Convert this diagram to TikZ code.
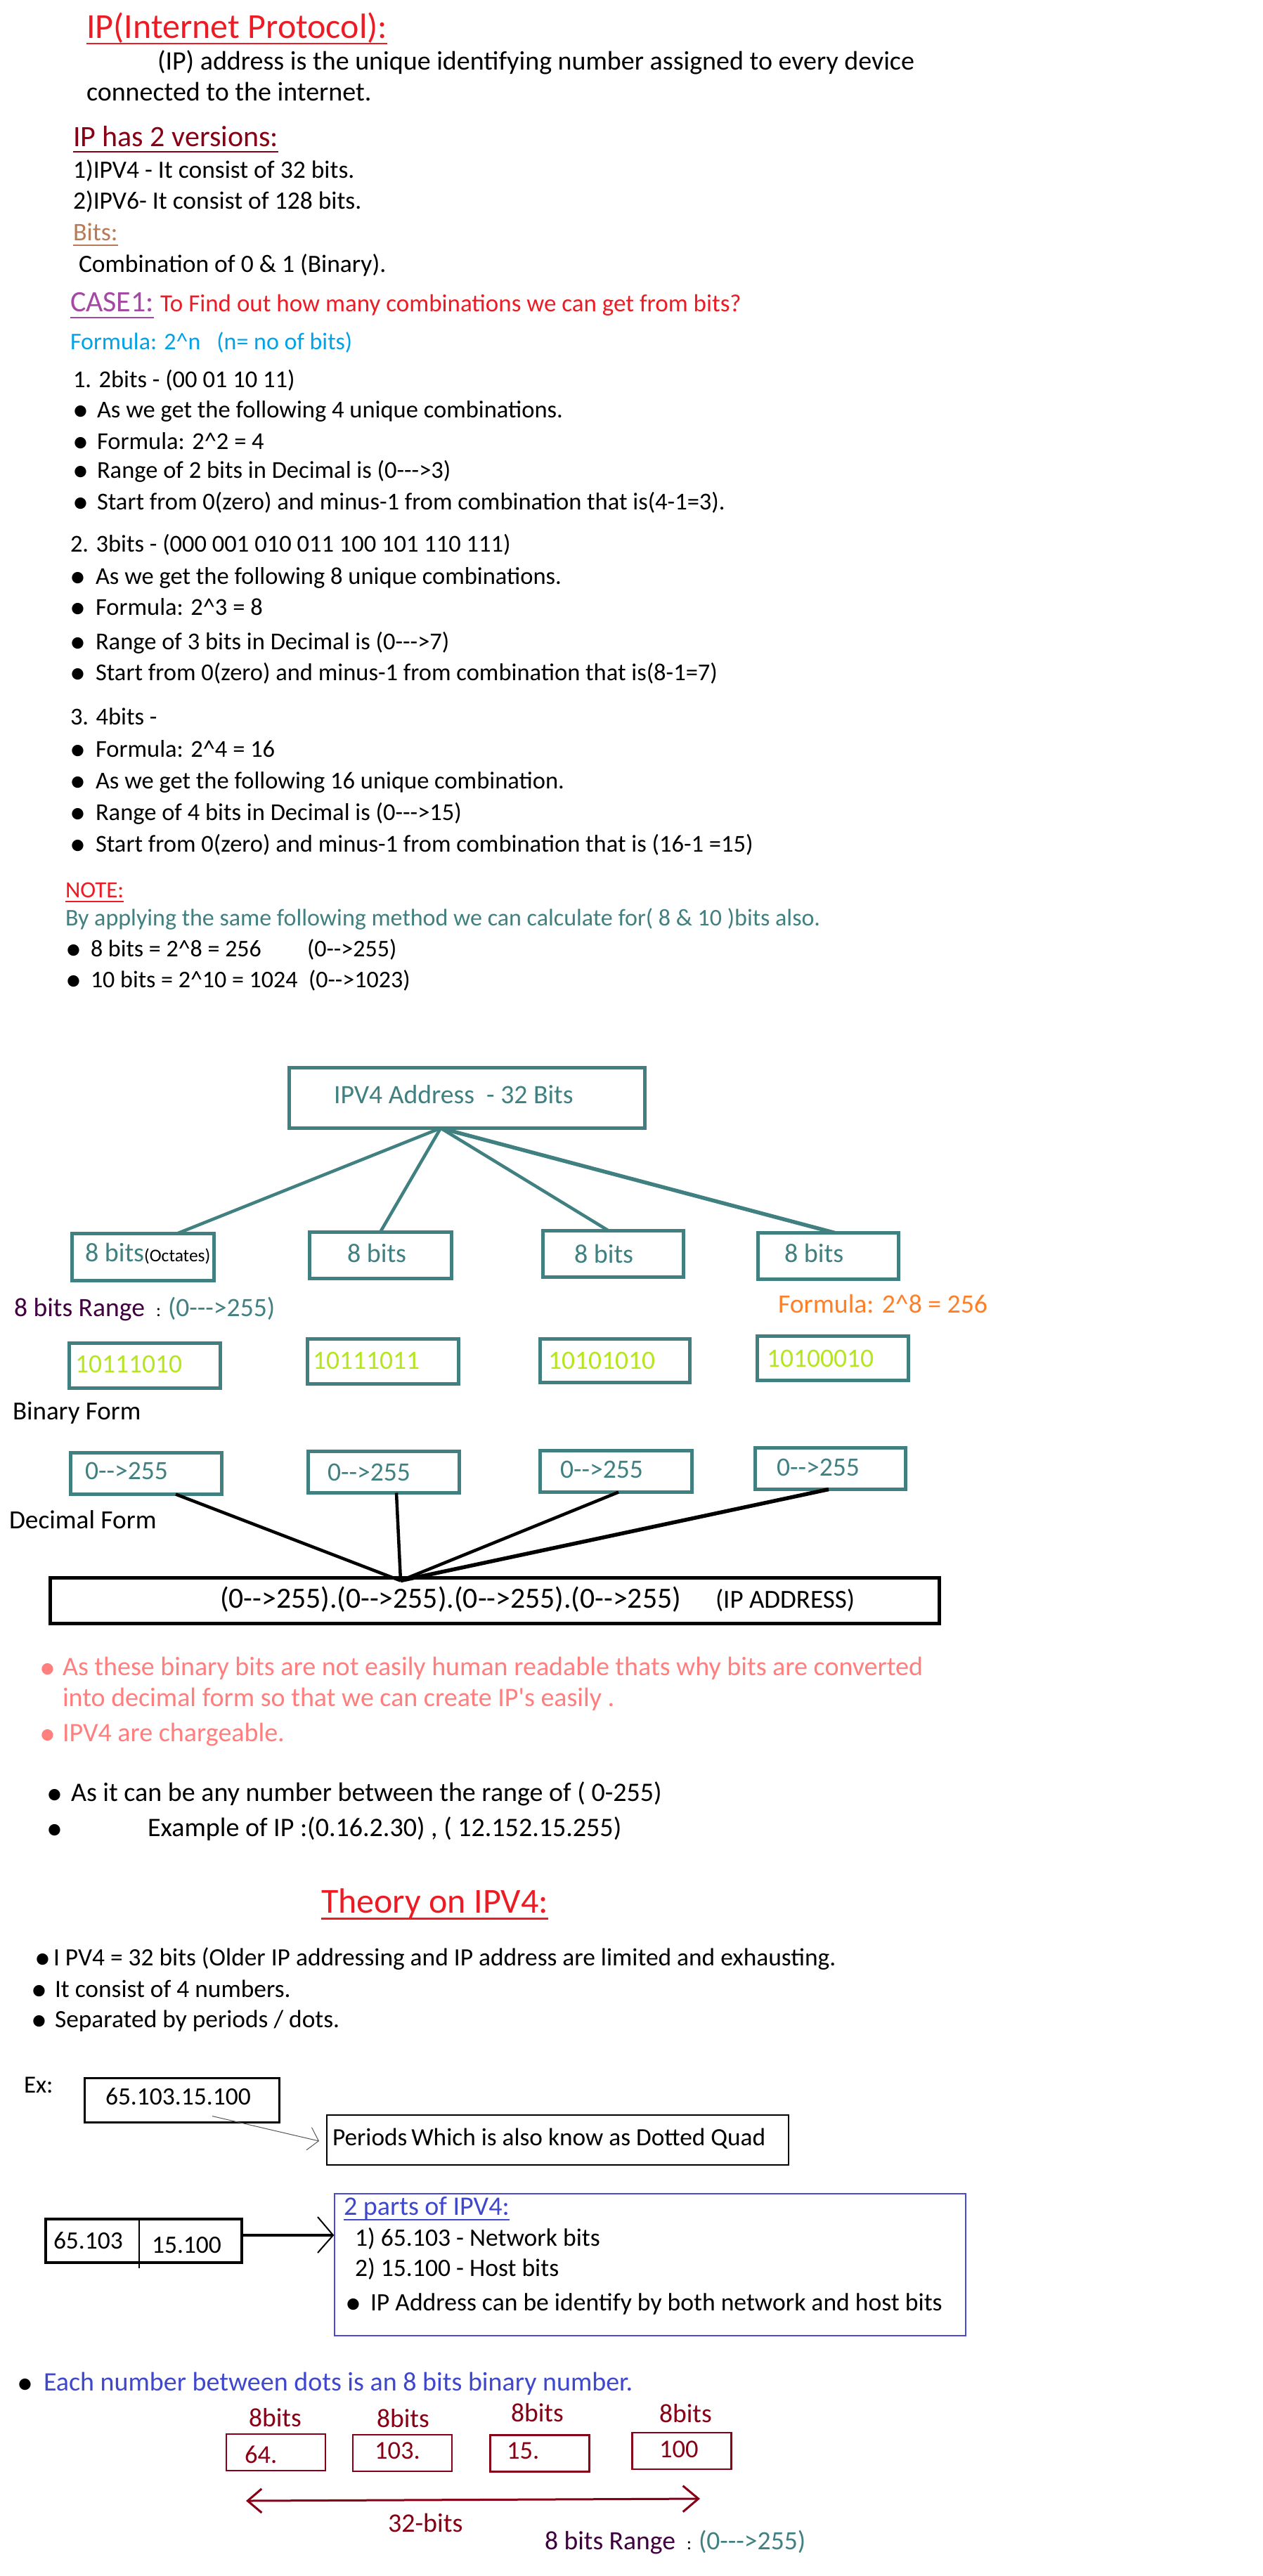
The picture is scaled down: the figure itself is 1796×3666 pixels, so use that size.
\documentclass[tikz,border=0pt]{standalone}
\usepackage{fontspec}
\newfontfamily\cf{Carlito}
\usetikzlibrary{arrows.meta}
\definecolor{tred}{HTML}{ED1C24}
\definecolor{dred}{HTML}{880015}
\definecolor{ttan}{HTML}{B97A57}
\definecolor{purp}{HTML}{A349A4}
\definecolor{tcyan}{HTML}{00A2E8}
\definecolor{teal}{HTML}{408080}
\definecolor{yg}{HTML}{B5E61D}
\definecolor{torange}{HTML}{FF7F27}
\definecolor{dpurp}{HTML}{400040}
\definecolor{pink}{HTML}{FF7F7F}
\definecolor{tblue}{HTML}{3F48CC}
\definecolor{bbox}{HTML}{4A4AD0}
\definecolor{agrey}{HTML}{555555}
\newcommand\fsz[1]{\fontsize{#1pt}{#1pt}\selectfont}
\begin{document}
\begin{tikzpicture}[x=1pt,y=-1pt,
  tx/.style={anchor=base west,inner sep=0pt,outer sep=0pt,font={\cf\fsz{#1}}},
  bul/.style={anchor=base west,inner sep=0pt,outer sep=0pt,font={\cf\fsz{46}},xshift=-2pt,yshift=-4pt},
  tbox/.style={draw=teal,line width=4.5pt,inner sep=0pt,outer sep=0pt},
  kbox/.style={draw=black,inner sep=0pt,outer sep=0pt},
  rbox/.style={draw=dred,line width=2.5pt,inner sep=0pt,outer sep=0pt,minimum width=141pt,minimum height=52pt},
  tline/.style={draw=teal,line width=4.5pt},
  kline/.style={draw=black,line width=4.5pt},
]
\fill[white] (0,0) rectangle (1796,3666);
\useasboundingbox (0,0) rectangle (1796,3666);

% ---------- header ----------
\node[tx=50,text=tred] (title) at (123,55) {IP(Internet Protocol):};
\draw[tred,line width=2.5pt] ([yshift=-7pt]title.base west) -- ([yshift=-7pt]title.base east);
\node[tx=38] (intro1) at (224,100) {(IP) address is the unique identifying number assigned to every device};
\node[tx=38] (intro2) at (123,144) {connected to the internet.};
\node[tx=42,text=dred] (ver) at (104,209) {IP has 2 versions:};
\draw[dred,line width=2.5pt] ([yshift=-7pt]ver.base west) -- ([yshift=-7pt]ver.base east);
\node[tx=35.5] (v4) at (104,254) {1)IPV4 - It consist of 32 bits.};
\node[tx=35.5] (v6) at (104,298) {2)IPV6- It consist of 128 bits.};
\node[tx=36,text=ttan] (bits) at (104,342) {Bits:};
\draw[ttan,line width=2.5pt] ([yshift=-7pt]bits.base west) -- ([yshift=-7pt]bits.base east);
\node[tx=35.5] (comb) at (112,387) {Combination of 0 \& 1 (Binary).};
\node[tx=42,text=purp] (case) at (100,443) {CASE1:};
\draw[purp,line width=2.5pt] ([yshift=-9pt]case.base west) -- ([yshift=-9pt]case.base east);
\node[tx=35,text=tred] (caseq) at (228,443) {To Find out how many combinations we can get from bits?};
\node[tx=34,text=tcyan] (form) at (100,497) {Formula: 2\textasciicircum n\ \ \ (n= no of bits)};

% ---------- lists ----------
\node[tx=34.5] (l1) at (104,551) {1. 2bits - (00 01 10 11)};
\node[bul] (l1b1) at (105,594) {•};
\node[tx=34.5] (l1t1) at (138,594) {As we get the following 4 unique combinations.};
\node[bul] (l1b2) at (105,639) {•};
\node[tx=34.5] (l1t2) at (138,639) {Formula: 2\textasciicircum 2 = 4};
\node[bul] (l1b3) at (105,680) {•};
\node[tx=34.5] (l1t3) at (138,680) {Range of 2 bits in Decimal is (0--->3)};
\node[bul] (l1b4) at (105,725) {•};
\node[tx=34.5] (l1t4) at (138,725) {Start from 0(zero) and minus-1 from combination that is(4-1=3).};

\node[tx=34.5] (l2) at (100,785) {2. 3bits - (000 001 010 011 100 101 110 111)};
\node[bul] (l2b1) at (101,831) {•};
\node[tx=34.5] (l2t1) at (136,831) {As we get the following 8 unique combinations.};
\node[bul] (l2b2) at (101,875) {•};
\node[tx=34.5] (l2t2) at (136,875) {Formula: 2\textasciicircum 3 = 8};
\node[bul] (l2b3) at (101,924) {•};
\node[tx=34.5] (l2t3) at (136,924) {Range of 3 bits in Decimal is (0--->7)};
\node[bul] (l2b4) at (101,968) {•};
\node[tx=34.5] (l2t4) at (136,968) {Start from 0(zero) and minus-1 from combination that is(8-1=7)};

\node[tx=34.5] (l3) at (100,1031) {3. 4bits -};
\node[bul] (l3b1) at (101,1077) {•};
\node[tx=34.5] (l3t1) at (136,1077) {Formula: 2\textasciicircum 4 = 16};
\node[bul] (l3b2) at (101,1122) {•};
\node[tx=34.5] (l3t2) at (136,1122) {As we get the following 16 unique combination.};
\node[bul] (l3b3) at (101,1167) {•};
\node[tx=34.5] (l3t3) at (136,1167) {Range of 4 bits in Decimal is (0--->15)};
\node[bul] (l3b4) at (101,1212) {•};
\node[tx=34.5] (l3t4) at (136,1212) {Start from 0(zero) and minus-1 from combination that is (16-1 =15)};

% ---------- note ----------
\node[tx=33,text=tred] (note) at (93,1277) {NOTE:};
\draw[tred,line width=2.5pt] ([yshift=-6pt]note.base west) -- ([yshift=-6pt]note.base east);
\node[tx=34,text=teal] (notet) at (93,1317) {By applying the same following method we can calculate for( 8 \& 10 )bits also.};
\node[bul] (nb1) at (95,1361) {•};
\node[tx=34] (nt1) at (129,1361) {8 bits = 2\textasciicircum 8 = 256};
\node[tx=34] (nt1r) at (437,1361) {(0-->255)};
\node[bul] (nb2) at (95,1405) {•};
\node[tx=34] (nt2) at (129,1405) {10 bits = 2\textasciicircum 10 = 1024\ \ (0-->1023)};

% ---------- IPv4 tree ----------
\node[tbox,line width=5pt,minimum width=506pt,minimum height=86pt] (root) at (664.5,1562.5) {};
\node[tx=37.7,text=teal] (roott) at (475,1570) {IPV4 Address\ \ - 32 Bits};
\coordinate (hub) at ([xshift=-37.5pt]root.south);

\node[tbox,minimum width=202pt,minimum height=67pt] (o1) at (203.5,1789) {};
\node[tbox,minimum width=202pt,minimum height=66pt] (o2) at (541.5,1786.5) {};
\node[tbox,minimum width=200pt,minimum height=66pt] (o3) at (872.5,1784.5) {};
\node[tbox,minimum width=200pt,minimum height=66pt] (o4) at (1178.5,1787.5) {};
\node[tx=38,text=teal] (o1t) at (121,1795) {8 bits{\color{black}\fsz{25.5}(Octates)}};
\node[tx=38,text=teal] (o2t) at (494,1796) {8 bits};
\node[tx=38,text=teal] (o3t) at (817,1797) {8 bits};
\node[tx=38,text=teal] (o4t) at (1116,1796) {8 bits};
\draw[tline] (hub) -- ([xshift=48.5pt]o1.north);
\draw[tline] (hub) -- ([xshift=-0.5pt]o2.north);
\draw[tline] (hub) -- ([xshift=-6.5pt]o3.north);
\draw[tline,line width=5.5pt] (hub) -- ([xshift=9.5pt]o4.north);

\node[tx=37.6,text=dpurp] (rng1) at (20,1873) {8 bits Range};
\node[tx=26] (rng1c) at (222,1873) {:};
\node[tx=37.6,text=teal] (rng1v) at (239,1873) {(0--->255)};
\node[tx=37.7,text=torange] (f8) at (1107,1868) {Formula: 2\textasciicircum 8 = 256};

\node[tbox,minimum width=215pt,minimum height=64pt] (n1) at (206,1943.5) {};
\node[tbox,minimum width=215pt,minimum height=64pt] (n2) at (545,1937.5) {};
\node[tbox,minimum width=213pt,minimum height=62pt] (n3) at (875,1936.5) {};
\node[tbox,minimum width=215pt,minimum height=63pt] (n4) at (1185,1933) {};
\node[tx=37.5,text=yg] (n1t) at (107,1953) {10111010};
\node[tx=37.5,text=yg] (n2t) at (445,1948) {10111011};
\node[tx=37.5,text=yg] (n3t) at (780,1948) {10101010};
\node[tx=37.5,text=yg] (n4t) at (1091,1945) {10100010};

\node[tx=37] (binf) at (18,2020) {Binary Form};

\node[tbox,minimum width=215pt,minimum height=59pt] (d1) at (208,2097) {};
\node[tbox,minimum width=215pt,minimum height=59pt] (d2) at (546,2095) {};
\node[tbox,minimum width=216pt,minimum height=59pt] (d3) at (876.5,2094) {};
\node[tbox,minimum width=214pt,minimum height=59pt] (d4) at (1181.5,2090) {};
\node[tx=37.6,text=teal] (d1t) at (121,2105) {0-->255};
\node[tx=37.6,text=teal] (d2t) at (466,2107) {0-->255};
\node[tx=37.6,text=teal] (d3t) at (797,2103) {0-->255};
\node[tx=37.6,text=teal] (d4t) at (1105,2100) {0-->255};

\node[tx=37.3] (decf) at (13,2175) {Decimal Form};

\node[kbox,line width=4.5pt,minimum width=1265pt,minimum height=65pt] (big) at (704,2278) {};
\coordinate (junc) at ([xshift=-134pt,yshift=-4pt]big.north);
\draw[kline] ([xshift=42pt]d1.south) -- (junc);
\draw[kline] ([xshift=18pt]d2.south) -- (junc);
\draw[kline] ([xshift=3.5pt]d3.south) -- (junc);
\draw[kline,line width=5.5pt] ([xshift=-2.5pt]d4.south) -- (junc);
\node[tx=41.7] (bigt) at (313,2288) {(0-->255).(0-->255).(0-->255).(0-->255)};
\node[tx=37] (bigl) at (1018,2288) {(IP ADDRESS)};

% ---------- remarks ----------
\node[bul,text=pink] (pb1) at (58,2384) {•};
\node[tx=38,text=pink] (pt1) at (89,2384) {As these binary bits are not easily human readable thats why bits are converted};
\node[tx=38,text=pink] (pt1b) at (89,2428) {into decimal form so that we can create IP's easily .};
\node[bul,text=pink] (pb2) at (58,2478) {•};
\node[tx=38,text=pink] (pt2) at (89,2478) {IPV4 are chargeable.};

\node[bul] (kb1) at (68,2563) {•};
\node[tx=38] (kt1) at (101,2563) {As it can be any number between the range of ( 0-255)};
\node[bul] (kb2) at (68,2613) {•};
\node[tx=38] (kt2) at (210,2613) {Example of IP :(0.16.2.30) , ( 12.152.15.255)};

% ---------- theory ----------
\node[tx=50,text=tred] (th) at (457,2722) {Theory on IPV4:};
\draw[tred,line width=3pt] ([yshift=-8pt]th.base west) -- ([yshift=-8pt]th.base east);
\node[bul] (tb1) at (51,2797) {•};
\node[tx=35.4] (tt1) at (76,2797) {I PV4 = 32 bits (Older IP addressing and IP address are limited and exhausting.};
\node[bul] (tb2) at (46,2842) {•};
\node[tx=35.4] (tt2) at (78,2842) {It consist of 4 numbers.};
\node[bul] (tb3) at (46,2885) {•};
\node[tx=35.4] (tt3) at (78,2885) {Separated by periods / dots.};

\node[tx=35] (exl) at (34,2978) {Ex:};
\node[kbox,line width=3pt,minimum width=277pt,minimum height=63pt] (ex) at (259,2989) {};
\node[tx=35.5] (ext) at (150,2995) {65.103.15.100};
\node[kbox,line width=1.5pt,minimum width=657pt,minimum height=71pt] (per) at (793.5,3045.5) {};
\node[tx=35.3] (pert) at (473,3053) {Periods\,Which is also know as Dotted Quad};
\draw[agrey,line width=1pt,-{Straight Barb[length=14pt,width=33pt]}] ([xshift=43pt,yshift=9pt]ex.south) -- ([xshift=-11pt,yshift=-1.5pt]per.west);

\node[kbox,line width=4pt,minimum width=279pt,minimum height=62pt] (split) at (204.5,3189) {};
\draw[line width=1.5pt] ([xshift=-6.5pt]split.north) -- ++(0,70);
\node[tx=35.5] (s1t) at (76,3200) {65.103};
\node[tx=35.5] (s2t) at (216,3206) {15.100};
\node[draw=bbox,line width=1.5pt,inner sep=0pt,outer sep=0pt,minimum width=898pt,minimum height=202pt] (parts) at (925,3223) {};
\draw[line width=4pt] ([yshift=8pt]split.east) -- ([yshift=8pt,xshift=-2pt]split.east -| parts.west);
\draw[line width=2pt] ([yshift=8pt,xshift=-24pt]split.east -| parts.west) ++(0,-26) -- ([yshift=8pt,xshift=-2pt]split.east -| parts.west) -- ++(-22,25);
\node[tx=38,text=tblue] (pt) at (489,3152) {2 parts of IPV4:};
\draw[tblue,line width=2.5pt] ([yshift=-7pt]pt.base west) -- ([yshift=-7pt]pt.base east);
\node[tx=35.6] (p1) at (505,3196) {1) 65.103 - Network bits};
\node[tx=35.6] (p2) at (505,3239) {2) 15.100 - Host bits};
\node[bul] (pb) at (493,3288) {•};
\node[tx=35.6] (p3) at (527,3288) {IP Address can be identify by both network and host bits};

% ---------- bottom ----------
\node[bul] (eb) at (26,3402) {•};
\node[tx=38,text=tblue] (et) at (62,3402) {Each number between dots is an 8 bits binary number.};
\node[tx=37.6,text=dred] (e1l) at (354,3453) {8bits};
\node[tx=37.6,text=dred] (e2l) at (536,3454) {8bits};
\node[tx=37.6,text=dred] (e3l) at (727,3446) {8bits};
\node[tx=37.6,text=dred] (e4l) at (938,3447) {8bits};
\node[rbox] (r1) at (392.5,3490) {};
\node[rbox] (r2) at (572.5,3491) {};
\node[rbox] (r3) at (768,3491.5) {};
\node[rbox] (r4) at (970,3488) {};
\node[tx=36.5,text=dred] (r1t) at (348,3505) {64.};
\node[tx=36.5,text=dred] (r2t) at (533,3499) {103.};
\node[tx=36.5,text=dred] (r3t) at (721,3499) {15.};
\node[tx=36.5,text=dred] (r4t) at (938,3497) {100};
\coordinate (aL) at (350,3559);
\coordinate (aR) at (996,3556);
\draw[dred,line width=3pt,{Straight Barb[length=20pt,width=34pt]}-{Straight Barb[length=22pt,width=37pt]}] (aL) -- (aR);
\node[tx=38,text=dred] (e32) at (552,3603) {32-bits};
\node[tx=37.6,text=dpurp] (rng2) at (775,3628) {8 bits Range};
\node[tx=26] (rng2c) at (977,3628) {:};
\node[tx=37.6,text=teal] (rng2v) at (994,3628) {(0--->255)};
\end{tikzpicture}
\end{document}
